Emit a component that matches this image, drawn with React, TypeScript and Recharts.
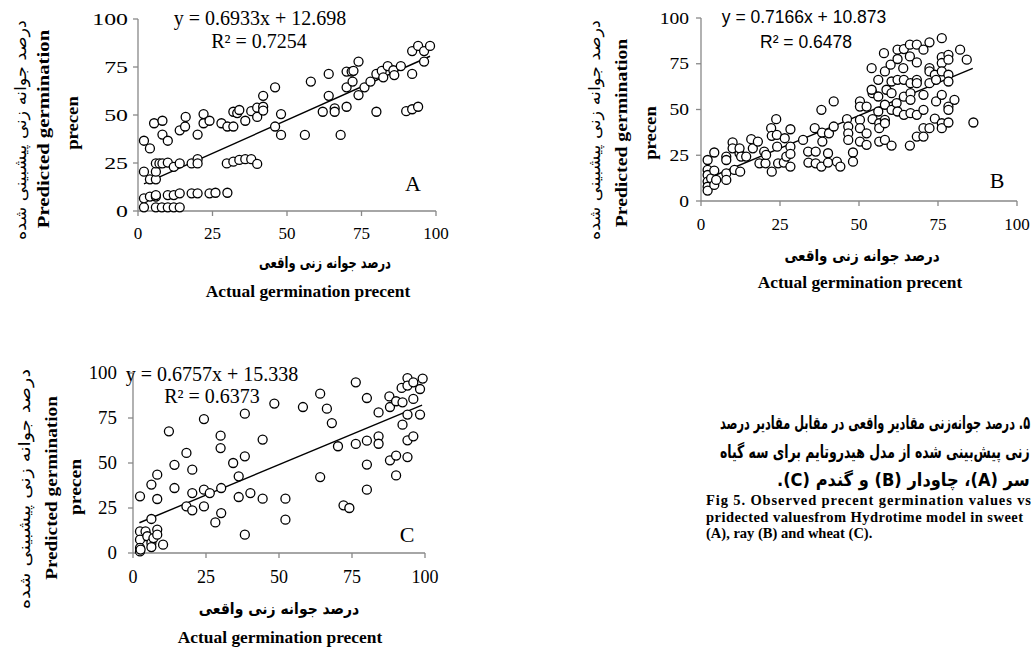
import React, { useLayoutEffect, useRef, useState } from 'react';
import { ScatterChart, Scatter, XAxis, YAxis, ReferenceLine } from 'recharts';

// [actual, predicted] pairs
const pointsA: [number, number][] = [
  [2, 36.6], [4, 32.6], [5.4, 45.7], [8.2, 47], [8.2, 39.8], [10, 36.6], [14, 42], [15.8, 44], [16, 49],
  [20, 39.8], [22, 50.5], [22, 45.7], [24, 47], [28, 45.7], [30, 44], [32, 51.7], [32, 44], [33.3, 51],
  [34, 52.6], [36, 47], [38, 52], [40, 53.8], [40, 49], [42, 54.3], [42, 60], [42, 52.3], [46, 64.4],
  [46, 44], [48, 50.5], [48, 39.6], [56, 39.6], [58, 67.4], [62, 51.7], [64, 71.4], [64, 60], [66, 53.5],
  [66, 51.7], [68, 39.6], [70, 54.3], [70, 64.4], [70, 72.6], [71.7, 72.6], [72, 67.4], [72.3, 73],
  [74, 77.8], [74, 60.4], [76, 64.4], [78, 67.4], [80, 71.4], [80, 51.7], [81.8, 73], [82.3, 69.6],
  [83.8, 75.5], [85.7, 73.3], [86, 70.8], [88.2, 75.5], [90, 52], [92, 83.3], [92, 71.4], [92, 53],
  [94, 86], [94, 54.3], [96, 83.3], [96, 77.8], [98, 86],
  [2, 20.5], [4, 16.5], [6, 16.5], [6, 20.5], [6, 24.8], [7.2, 24.8], [8.2, 24.8], [10, 25.2], [12, 23],
  [14, 24.8], [18, 24.8], [20, 27], [20, 24.8], [29.8, 24.8], [32, 25.7], [34, 26.6], [36, 27], [38, 27],
  [40, 24.5],
  [2, 6.6], [4, 7.5], [6, 7.5], [6, 8.3], [10, 8.3], [12, 8.3], [14, 9.2], [18, 9.2], [20, 9.2], [24, 9.2],
  [26, 9.5], [30, 9.5],
  [2, 1.9], [6, 1.9], [8, 1.9], [10, 1.9], [12, 1.9], [14, 1.9],
];

const pointsB: [number, number][] = [
  [2.1, 22.4], [2.1, 17], [2.1, 14.2], [2.1, 10.6], [2.1, 7.8], [2.1, 5.7], [3.2, 12.4], [4.2, 26.5],
  [4.2, 16.6], [4.2, 8.8], [4.8, 11.5], [8, 24.3], [8, 22.4], [8, 15.1], [8, 11.5], [10, 32], [10, 28.8],
  [10.6, 17], [12.2, 26], [12.2, 28.8], [12.4, 16], [12.7, 24.3], [14.3, 24.3], [15.9, 33.8], [16.4, 28.8],
  [18, 32.5], [18.5, 20.6], [20, 27], [20.4, 20.6], [20.6, 25.2], [22.2, 39.8], [22.4, 35.6], [22.4, 16],
  [23.8, 44.7], [24, 36.1], [24.1, 29.7], [24.4, 20.6], [26.5, 34.3], [26.2, 21], [27, 24.3], [28.3, 39.2],
  [28.3, 29.7], [28.3, 25.7], [28.3, 18.8], [32.3, 33.4], [33.9, 27], [34, 21], [36, 39.8], [36.3, 27],
  [36.3, 20.6], [38.1, 49.8], [38.3, 37.4], [38.4, 32.5], [38.1, 18.8], [40.2, 26.1], [40.2, 21],
  [40.5, 37], [42, 54.4], [42, 40.7], [43, 21.5], [44.1, 18.8], [46.2, 44.7], [46.6, 40.7], [46.6, 37],
  [46.6, 33.4], [48.1, 26.5], [48.1, 21.5], [50.3, 54.4], [50.3, 51.6], [50.3, 44.3], [50.3, 39.8],
  [50.3, 32.5], [52.4, 37], [52.4, 30.7], [52.4, 51.6], [54, 72.6], [54.3, 58.9], [54.3, 44.7], [54, 60.8],
  [56.1, 66.2], [56.1, 57.1], [56.1, 48.9], [56.4, 42.5], [56.4, 39.8], [56.4, 32.5], [57.9, 80.8],
  [58.2, 70.8], [58.2, 52.6], [58.2, 44.3], [58.2, 42.5], [58.2, 33.4], [58.7, 60.8], [60, 74.5],
  [60.3, 65.3], [60.3, 58.9], [60.3, 49.8], [60.3, 30.3], [61.9, 53.5], [62.2, 82.7], [62.2, 77.6],
  [62.2, 66.2], [62.2, 48.9], [64, 72.6], [64.2, 66.2], [64.2, 47.1], [64.2, 83], [64.2, 57], [66.1, 85.4],
  [66.1, 79], [66.3, 64.4], [66.3, 58.9], [66.3, 55.3], [66.3, 48], [66.1, 30.3], [68.3, 85.4],
  [68.3, 75.7], [68.3, 66.2], [68.3, 64.4], [68.3, 47.1], [68.3, 35.2], [70.4, 82.7], [70.4, 58],
  [70.4, 49.8], [70.4, 39.8], [70.4, 35.2], [72.3, 86.7], [72.3, 72.6], [72.3, 70.8], [72.3, 64.4],
  [72.3, 39.8], [74, 69], [74.4, 66.2], [74.4, 54.4], [74, 45], [76.2, 89], [76.2, 78.6], [76.2, 75.4],
  [76.2, 70.8], [76.2, 58], [76.2, 42.5], [76.2, 39.8], [78.3, 79.9], [78.3, 77.2], [78.3, 69],
  [78.3, 65.3], [78.3, 51.6], [78.3, 49.8], [78.3, 42.9], [80.2, 55.3], [82, 82.7], [84.1, 77.2],
  [86.2, 42.9],
];

const pointsC: [number, number][] = [
  [2.4, 31.5], [2.4, 12], [2.4, 7.4], [2.4, 2.8], [2.4, 0.9], [2.6, 1.9], [4.3, 12], [4.9, 9.3],
  [6.3, 38], [6.3, 18.9], [6.3, 5.6], [6.3, 3.3], [7, 8.3], [8.3, 43.5], [8.3, 30], [8.3, 13], [8.3, 10.2],
  [10.3, 4.6], [12.3, 67.6], [14.2, 49], [14.2, 36.1], [18.3, 55.6], [18.3, 25.9], [20.3, 46.3],
  [20.3, 33.3], [20.3, 23.7], [24.3, 74.4], [24.3, 35.2], [24.3, 25.9], [26.3, 33.3], [28.2, 17],
  [30, 65.2], [30, 58.3], [30.2, 36.1], [30.2, 22.2], [34.3, 50], [36.2, 42.6], [36.2, 31.1], [38.3, 77.4],
  [38.3, 53.7], [38.3, 10.2], [40.2, 33.3], [44.4, 63], [44.4, 30.2], [48.4, 83], [52.2, 30.2],
  [52.2, 18.5], [58.2, 81.1], [64.1, 88.5], [64.1, 42.2], [66.4, 80.2], [68.1, 72.2], [70.2, 59.3],
  [72.1, 26.5], [74.1, 25], [76.3, 94.8], [76.3, 60.6], [80.1, 86.1], [80.1, 62.4], [80.1, 49.1],
  [80.1, 35.2], [84.1, 78.1], [84.1, 64.8], [84.1, 60.7], [87.8, 87], [88, 81.1], [88, 51.5], [90.1, 84.3],
  [90.1, 54.1], [90.1, 43.1], [92, 91.7], [92.3, 83.7], [92.3, 71.3], [94, 97.2], [94, 93], [94, 76.9],
  [94, 62.6], [94, 53.3], [96, 94.8], [96, 85.6], [96, 64.8], [98.3, 91.1], [98.3, 76.9], [99.2, 96.9],
];

// trend line end points
const trendA = [{ x: 2, y: 14.1 }, { x: 98, y: 80.6 }];
const trendB = [{ x: 2, y: 12.3 }, { x: 86, y: 72.5 }];
const trendC = [{ x: 2.2, y: 16.8 }, { x: 99, y: 82.2 }];

const axisTicks = [0, 25, 50, 75, 100];

const GRAY = '#888888';
const SERIF = "'Liberation Serif', 'Times New Roman', serif";
const SANS = "'Liberation Sans', Arial, sans-serif";
const FA = "'DejaVu Sans', sans-serif";

const Dot = (p: any) => (
  <circle cx={p.cx} cy={p.cy} r={4.5} fill="#fff" stroke="#000" strokeWidth={1.3} />
);

const yTick = (sx: number, fs: number) => (p: any) => (
  <text
    x={0}
    y={0}
    transform={`translate(${p.x},${p.y}) scale(${sx},1)`}
    textAnchor="end"
    dominantBaseline="central"
    fontFamily={SERIF}
    fontSize={fs}
    fill="#000"
  >
    {p.payload.value}
  </text>
);

interface PanelProps {
  left: number;
  top: number;
  width: number;
  height: number;
  margin: { top: number; right: number; bottom: number; left: number };
  points: [number, number][];
  trend: { x: number; y: number }[];
  ySx: number;
  yMargin: number;
  xMargin: number;
  fs: number;
}

const Panel = ({ left, top, width, height, margin, points, trend, ySx, yMargin, xMargin, fs }: PanelProps) => {
  const data = points.map(([x, y]) => ({ x, y }));
  return (
    <div style={{ position: 'absolute', left, top }}>
      <ScatterChart width={width} height={height} margin={margin}>
        <XAxis
          type="number"
          dataKey="x"
          domain={[0, 100]}
          ticks={axisTicks}
          height={30}
          axisLine={{ stroke: GRAY, strokeWidth: 1.3 }}
          tickLine={{ stroke: GRAY, strokeWidth: 1.3 }}
          tickSize={5}
          tickMargin={xMargin}
          tick={{ fill: '#000', fontSize: fs, fontFamily: SERIF }}
        />
        <YAxis
          type="number"
          dataKey="y"
          domain={[0, 100]}
          ticks={axisTicks}
          width={40}
          axisLine={{ stroke: GRAY, strokeWidth: 1.3 }}
          tickLine={{ stroke: GRAY, strokeWidth: 1.3 }}
          tickSize={5}
          tickMargin={yMargin}
          tick={yTick(ySx, fs)}
        />
        <Scatter data={data} shape={Dot} isAnimationActive={false} />
        <ReferenceLine segment={trend} stroke="#000" strokeWidth={1.4} ifOverflow="visible" />
      </ScatterChart>
    </div>
  );
};

const T = ({ x, y, sx = 1, children, style }: { x: number; y: number; sx?: number; children: React.ReactNode; style?: React.CSSProperties }) => (
  <div
    style={{
      position: 'absolute',
      left: x,
      top: y,
      transform: `translate(-50%,-50%) scale(${sx},1)`,
      whiteSpace: 'nowrap',
      lineHeight: 1,
      color: '#000',
      ...style,
    }}
  >
    {children}
  </div>
);

const V = ({ x, y, sx, children, style }: { x: number; y: number; sx: number; children: React.ReactNode; style?: React.CSSProperties }) => (
  <div
    style={{
      position: 'absolute',
      left: x,
      top: y,
      transform: `translate(-50%,-50%) rotate(-90deg) scale(${sx},1)`,
      whiteSpace: 'nowrap',
      lineHeight: 1,
      color: '#000',
      ...style,
    }}
  >
    {children}
  </div>
);

// one caption line squeezed to a given width, anchored on its right edge
const FitLine = ({ right, top, width, text, style }: { right: number; top: number; width: number; text: string; style: React.CSSProperties }) => {
  const ref = useRef<HTMLDivElement>(null);
  const [k, setK] = useState(1);
  useLayoutEffect(() => {
    if (ref.current) setK(width / ref.current.offsetWidth);
  }, [width, text]);
  return (
    <div
      ref={ref}
      style={{
        position: 'absolute',
        right: 1035 - right,
        top,
        direction: 'rtl',
        whiteSpace: 'nowrap',
        lineHeight: 1,
        color: '#000',
        transform: `scale(${k},1)`,
        transformOrigin: 'right center',
        ...style,
      }}
    >
      {text}
    </div>
  );
};

const faY: React.CSSProperties = { fontFamily: FA, fontSize: 16 };
const enY: React.CSSProperties = { fontFamily: SERIF, fontSize: 17, fontWeight: 'bold' };
const faX: React.CSSProperties = { fontFamily: FA, fontSize: 15.5, fontWeight: 'bold' };
const enX: React.CSSProperties = { fontFamily: SERIF, fontSize: 17.4, fontWeight: 'bold' };
const eqSerif: React.CSSProperties = { fontFamily: SERIF, fontSize: 20 };
const eqSans: React.CSSProperties = { fontFamily: SANS, fontSize: 17.5 };
const letter: React.CSSProperties = { fontFamily: SERIF, fontSize: 22 };
const faCap: React.CSSProperties = { fontFamily: FA, fontSize: 18, fontWeight: 'bold' };

const faYText = 'درصد جوانه زنی پیشبینی شده';
const faXText = 'درصد جوانه زنی واقعی';

const captionFa = [
  '۵. درصد جوانه‌زنی مقادیر واقعی در مقابل مقادیر درصد',
  'زنی پیش‌بینی شده از مدل هیدروتایم برای سه گیاه',
  'سر (A)، چاودار (B) و گندم (C).',
];
const captionEn = [
  'Fig 5. Observed precent germination values vs',
  'pridected valuesfrom Hydrotime model in sweet',
  '(A), ray (B) and wheat (C).',
];

export default function App() {
  return (
    <div
      style={{
        position: 'absolute',
        left: 0,
        top: 0,
        width: 1035,
        height: 649,
        background: '#fff',
        overflow: 'hidden',
      }}
    >
      <Panel
        left={0}
        top={0}
        width={470}
        height={260}
        margin={{ top: 19, right: 34, bottom: 19, left: 98 }}
        points={pointsA}
        trend={trendA}
        ySx={1.4}
        yMargin={5}
        xMargin={11}
        fs={17}
      />
      <Panel
        left={560}
        top={0}
        width={475}
        height={250}
        margin={{ top: 18, right: 18, bottom: 19, left: 101 }}
        points={pointsB}
        trend={trendB}
        ySx={1.15}
        yMargin={7}
        xMargin={12}
        fs={17}
      />
      <Panel
        left={0}
        top={340}
        width={460}
        height={250}
        margin={{ top: 33, right: 35, bottom: 7, left: 93 }}
        points={pointsC}
        trend={trendC}
        ySx={1.05}
        yMargin={11}
        xMargin={12}
        fs={18}
      />

      {/* panel A text */}
      <T x={260} y={18} style={eqSerif}>y = 0.6933x + 12.698</T>
      <T x={259} y={41} style={eqSerif}>R² = 0.7254</T>
      <T x={413} y={184} style={letter}>A</T>
      <V x={21} y={130} sx={1.1} style={faY}>{faYText}</V>
      <V x={43} y={129} sx={1.22} style={enY}>Predicted germination</V>
      <V x={72} y={123} sx={1.1} style={enY}>precen</V>
      <T x={325} y={264} sx={0.74} style={faX}>{faXText}</T>
      <T x={308} y={292} style={enX}>Actual germination precent</T>

      {/* panel B text */}
      <T x={804} y={18} style={eqSans}>y = 0.7166x + 10.873</T>
      <T x={806} y={43} style={eqSans}>R² = 0.6478</T>
      <T x={997} y={181} style={letter}>B</T>
      <V x={595} y={130} sx={1.1} style={faY}>{faYText}</V>
      <V x={621} y={133} sx={1.16} style={enY}>Predicted germination</V>
      <V x={650} y={133} sx={1.1} style={enY}>precen</V>
      <T x={862} y={257} sx={0.87} style={faX}>{faXText}</T>
      <T x={860} y={283} style={enX}>Actual germination precent</T>

      {/* panel C text */}
      <T x={212} y={374} style={eqSerif}>y = 0.6757x + 15.338</T>
      <T x={212} y={396} style={eqSerif}>R² = 0.6373</T>
      <T x={407} y={535} style={letter}>C</T>
      <V x={25} y={489} sx={1.2} style={faY}>{faYText}</V>
      <V x={51} y={488} sx={1.13} style={enY}>Predicted germination</V>
      <V x={75} y={487} sx={1.15} style={enY}>precen</V>
      <T x={279} y={610} sx={0.9} style={faX}>{faXText}</T>
      <T x={280} y={638} style={enX}>Actual germination precent</T>

      {/* caption */}
      <FitLine right={1030} top={414} width={310} text={captionFa[0]} style={faCap} />
      <FitLine right={1030} top={443} width={310} text={captionFa[1]} style={faCap} />
      <FitLine right={1030} top={471} width={253} text={captionFa[2]} style={faCap} />
      <svg width={1035} height={649} style={{ position: 'absolute', left: 0, top: 0 }}>
        <g fontFamily={SERIF} fontWeight="bold" fontSize={14.5} fill="#000">
          <text x={706} y={505} textLength={325} lengthAdjust="spacing">
            {captionEn[0]}
          </text>
          <text x={706} y={522} textLength={317} lengthAdjust="spacing">
            {captionEn[1]}
          </text>
          <text x={706} y={538}>{captionEn[2]}</text>
        </g>
      </svg>
    </div>
  );
}
